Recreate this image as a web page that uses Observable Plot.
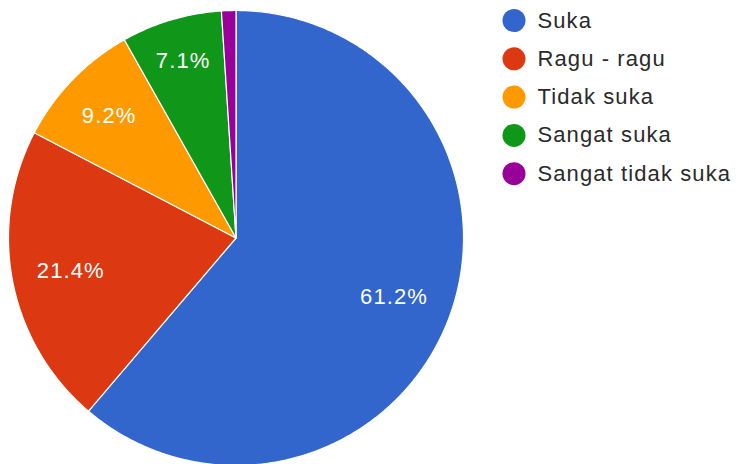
<!DOCTYPE html>
<html><head><meta charset="utf-8">
<script src="https://cdn.jsdelivr.net/npm/d3@7"></script>
<script src="https://cdn.jsdelivr.net/npm/@observablehq/plot@0.6"></script>
<style>body{margin:0;background:#fff;overflow:hidden} #chart svg text{letter-spacing:1.1px}</style>
</head><body><div id="chart"></div>
<script>
const categories = ["Suka", "Ragu - ragu", "Tidak suka", "Sangat suka", "Sangat tidak suka"];
const counts = [60, 21, 9, 7, 1];
const colors = ["#3366cc", "#dc3912", "#ff9900", "#109618", "#990099"];

const W = 736, H = 464, cx = 235.5, cy = 237.5, R = 227.5;
const total = d3.sum(counts);
const arcs = d3.pie().sort(null).value(d => d)(counts);

const pts = [];
arcs.forEach((a, i) => {
  const key = categories[i];
  const n = Math.max(2, Math.ceil((a.endAngle - a.startAngle) / (2 * Math.PI) * 720));
  pts.push({key, x: cx, y: cy});
  for (let j = 0; j <= n; j++) {
    const t = a.startAngle + (a.endAngle - a.startAngle) * j / n;
    pts.push({key, x: cx + R * Math.sin(t), y: cy - R * Math.cos(t)});
  }
  pts.push({key, x: cx, y: cy});
});

const labels = arcs.map((a, i) => {
  const frac = counts[i] / total;
  const mid = (a.startAngle + a.endAngle) / 2;
  const r = R * (0.74 + 2.0 * Math.max(0, 0.11 - frac));
  return {frac, x: cx + r * Math.sin(mid), y: cy - r * Math.cos(mid), text: (frac * 100).toFixed(1) + "%"};
}).filter(d => d.frac >= 0.05);

const legY = (d, i) => 20 + i * 38.3;

const chart = Plot.plot({
  width: W, height: H, margin: 0,
  x: {domain: [0, W], range: [0, W], axis: null},
  y: {domain: [0, H], range: [0, H], axis: null},
  color: {domain: categories, range: colors},
  style: {fontFamily: "'Liberation Sans', Arial, sans-serif", background: "white", overflow: "visible"},
  marks: [
    Plot.line(pts, {x: "x", y: "y", z: "key", fill: "key", stroke: "white", strokeWidth: 1.2, strokeLinejoin: "round"}),
    Plot.text(labels, {x: "x", y: "y", text: "text", fill: "white", fontSize: 22, textAnchor: "middle", dy: 1}),
    Plot.dot(categories, {x: () => 513.5, y: legY, r: 11.5, fill: d => d, stroke: null}),
    Plot.text(categories, {x: () => 537, y: legY, text: d => d, textAnchor: "start", fontSize: 22, fill: "#2a2a2a"})
  ]
});
document.getElementById("chart").appendChild(chart);
</script>
</body></html>
